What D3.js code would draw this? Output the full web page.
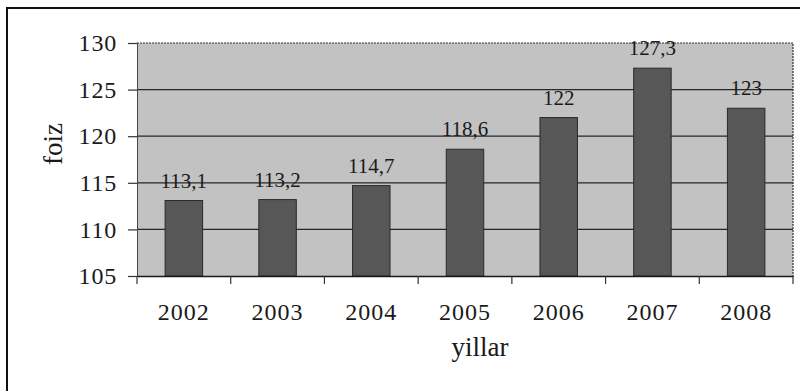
<!DOCTYPE html>
<html>
<head>
<meta charset="utf-8">
<script src="https://cdn.jsdelivr.net/npm/d3@7"></script>
<style>
  html, body { margin: 0; padding: 0; background: #ffffff; }
  svg { display: block; }
  text { font-family: "Liberation Serif", "Times New Roman", "DejaVu Serif", serif; fill: #1a1a1a; }
</style>
</head>
<body>
<svg id="chart" width="802" height="391"></svg>
<script>
// Index values by year, percent
const years = ["2002", "2003", "2004", "2005", "2006", "2007", "2008"];
const values = [113.1, 113.2, 114.7, 118.6, 122, 127.3, 123];
const yTicks = [105, 110, 115, 120, 125, 130];
const yTitle = "foiz";
const xTitle = "yillar";

const W = 802, H = 391;
const plot = { left: 137, right: 793, top: 43, bottom: 276 };

const svg = d3.select("#chart");

// outer frame (top and left edges)
svg.append("path")
  .attr("d", `M7,${H} L7,8 L800,8`)
  .attr("fill", "none")
  .attr("stroke", "#111")
  .attr("stroke-width", 2);

const x = d3.scaleBand()
  .domain(years)
  .range([plot.left, plot.right])
  .paddingInner(0.6)
  .paddingOuter(0.3);

const y = d3.scaleLinear()
  .domain([105, 130])
  .range([plot.bottom, plot.top]);

// plot background
svg.append("rect")
  .attr("x", plot.left)
  .attr("y", plot.top)
  .attr("width", plot.right - plot.left)
  .attr("height", plot.bottom - plot.top)
  .attr("fill", "#c2c2c2");

// horizontal gridlines
svg.append("g")
  .selectAll("line")
  .data(yTicks.filter(t => t > 105 && t < 130))
  .join("line")
  .attr("x1", plot.left)
  .attr("x2", plot.right)
  .attr("y1", d => y(d))
  .attr("y2", d => y(d))
  .attr("stroke", "#262626")
  .attr("stroke-width", 1.2);

// dotted plot border (top and right)
svg.append("path")
  .attr("d", `M${plot.left},${y(130)} L${plot.right},${y(130)} L${plot.right},${plot.bottom}`)
  .attr("fill", "none")
  .attr("stroke", "#333")
  .attr("stroke-width", 1.2)
  .attr("stroke-dasharray", "2,1");

// bars
svg.append("g")
  .selectAll("rect")
  .data(values)
  .join("rect")
  .attr("x", (d, i) => x(years[i]))
  .attr("y", d => y(d))
  .attr("width", x.bandwidth())
  .attr("height", d => y(105) - y(d))
  .attr("fill", "#575757")
  .attr("stroke", "#2a2a2a")
  .attr("stroke-width", 1);

// value labels
const fmt = v => d3.format(".4~")(v).replace(".", ",");
svg.append("g")
  .selectAll("text")
  .data(values)
  .join("text")
  .attr("x", (d, i) => x(years[i]) + x.bandwidth() / 2)
  .attr("y", d => y(d) - 13)
  .attr("text-anchor", "middle")
  .attr("font-size", 21)
  .text(d => fmt(d));

// y axis
const yAxis = svg.append("g")
  .attr("transform", `translate(${plot.left},0)`)
  .call(d3.axisLeft(y).tickValues(yTicks).tickSize(9).tickPadding(11).tickFormat(d3.format("d")));
yAxis.select(".domain").attr("stroke", "#444").attr("stroke-width", 1);
yAxis.selectAll(".tick line").attr("stroke", "#333").attr("stroke-width", 1.2);
yAxis.selectAll(".tick text")
  .attr("font-size", 24)
  .attr("letter-spacing", 0.8)
  .attr("fill", "#1a1a1a");

// x axis: labels under band centres, ticks at category boundaries
const xAxis = svg.append("g")
  .attr("transform", `translate(0,${plot.bottom})`)
  .call(d3.axisBottom(x).tickSize(0).tickPadding(27));
xAxis.select(".domain").attr("stroke", "#1a1a1a").attr("stroke-width", 1.6);
xAxis.selectAll(".tick text")
  .attr("font-size", 24)
  .attr("letter-spacing", 1)
  .attr("fill", "#1a1a1a");

const boundaries = d3.range(years.length + 1).map(i => plot.left + i * x.step());
xAxis.append("g")
  .selectAll("line")
  .data(boundaries)
  .join("line")
  .attr("x1", d => d)
  .attr("x2", d => d)
  .attr("y1", 0)
  .attr("y2", 8)
  .attr("stroke", "#333")
  .attr("stroke-width", 1.2);

// axis titles
svg.append("text")
  .attr("transform", `translate(62,144) rotate(-90)`)
  .attr("text-anchor", "middle")
  .attr("font-size", 27)
  .text(yTitle);

svg.append("text")
  .attr("x", 480)
  .attr("y", 356)
  .attr("text-anchor", "middle")
  .attr("font-size", 27)
  .text(xTitle);
</script>
</body>
</html>
